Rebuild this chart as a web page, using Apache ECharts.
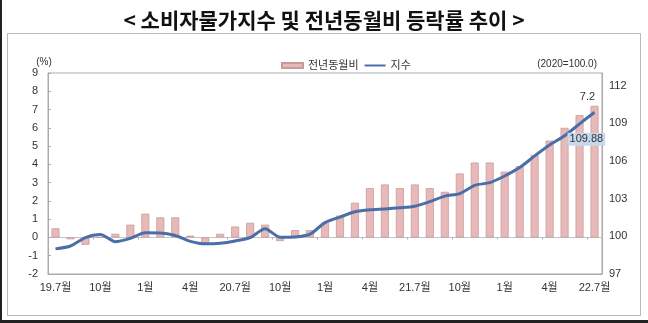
<!DOCTYPE html>
<html>
<head>
<meta charset="utf-8">
<script src="https://cdn.jsdelivr.net/npm/echarts@6/dist/echarts.min.js"></script>
<style>
html,body{margin:0;padding:0;background:#fff;}
#c{width:648px;height:323px;}
</style>
</head>
<body>
<div id="c"></div>
<script>
const categories = ['19.7월','8월','9월','10월','11월','12월','1월','2월','3월','4월','5월','6월',
  '20.7월','8월','9월','10월','11월','12월','1월','2월','3월','4월','5월','6월',
  '21.7월','8월','9월','10월','11월','12월','1월','2월','3월','4월','5월','6월','22.7월'];
const yoyRate = [0.5,-0.1,-0.4,0.0,0.2,0.7,1.3,1.1,1.1,0.1,-0.3,0.2,
  0.6,0.8,0.7,-0.2,0.4,0.4,0.8,1.2,1.9,2.7,2.9,2.7,
  2.9,2.7,2.5,3.5,4.1,4.1,3.6,3.9,4.5,5.3,6.0,6.7,7.2];
const cpiIndex = [99.0,99.23,99.9,100.15,99.57,99.84,100.28,100.27,100.06,99.6,99.4,99.45,
  99.63,99.9,100.6,99.93,99.95,100.17,101.09,101.53,101.95,102.12,102.18,102.27,
  102.4,102.76,103.2,103.4,104.06,104.27,104.8,105.47,106.4,107.27,108.0,108.95,109.88];
const leftTicks = {min:-2, max:9, interval:1};
const rightTicks = {min:97, max:113, step:3};
const seriesNames = ['전년동월비','지수'];
const titleText = '< 소비자물가지수 및 전년동월비 등락률 추이 >';

const FONT = "'Liberation Sans', 'Noto Sans CJK KR', sans-serif";
const chart = echarts.init(document.getElementById('c'), null, {renderer:'canvas'});
const lastIdx = yoyRate.length - 1;
const barData = yoyRate.map((v,i)=> i===lastIdx ? {value:v, label:{show:true, position:'top', offset:[-7,2], color:'#333', fontSize:11, fontFamily:FONT, formatter: p=>String(p.value)}} : v);

chart.setOption({
  animation:false,
  backgroundColor:'#fff',
  textStyle:{fontFamily:FONT},
  title:{text:titleText, left:'center', top:5, textStyle:{fontFamily:"'Noto Sans CJK KR', sans-serif", fontSize:21, fontWeight:'bold', color:'#111'}},
  graphic:[
    {type:'rect', z:-10, shape:{x:7.5,y:33.5,width:633,height:282}, style:{fill:'none', stroke:'#b8b8b8', lineWidth:1}},
    {type:'rect', z:-10, shape:{x:0,y:0,width:2,height:323}, style:{fill:'#222'}},
    {type:'rect', z:-10, shape:{x:0,y:320,width:648,height:3}, style:{fill:'#222'}}
  ],
  legend:{
    left:276, top:55, itemWidth:21, itemHeight:5, itemGap:6,
    textStyle:{fontSize:11, color:'#333', fontFamily:FONT},
    data:[{name:seriesNames[0], icon:'rect'},
          {name:seriesNames[1], icon:'path://M0,0M0,1.5H21V3.5H0ZM21,5', itemStyle:{color:'#4a6ea8'}}]
  },
  grid:{left:48, right:46, top:73, bottom:49, show:true, borderColor:'#aaa', borderWidth:1, backgroundColor:'transparent'},
  xAxis:[
    {type:'category', data:categories, position:'bottom', boundaryGap:true,
     axisLine:{onZero:false, lineStyle:{color:'#aaa'}}, axisTick:{show:false},
     axisLabel:{interval:2, color:'#333', fontSize:11, margin:8, fontFamily:FONT}},
    {type:'category', data:categories, position:'bottom', boundaryGap:true,
     axisLine:{onZero:true, onZeroAxisIndex:0, lineStyle:{color:'#c4c4c4'}},
     axisTick:{show:true, length:2, lineStyle:{color:'#aaa'}}, axisLabel:{show:false}}
  ],
  yAxis:[
    {type:'value', min:leftTicks.min, max:leftTicks.max, interval:leftTicks.interval, position:'left',
     name:'(%)', nameLocation:'end', nameGap:3, nameTextStyle:{fontSize:10, color:'#333', align:'center', padding:[0,8,0,0]},
     axisLine:{show:true, lineStyle:{color:'#aaa'}}, axisTick:{show:true, inside:true, length:3, lineStyle:{color:'#aaa'}},
     splitLine:{show:false}, axisLabel:{color:'#333', fontSize:11, margin:10}},
    {type:'value', min:rightTicks.min, max:rightTicks.max, interval:1, position:'right',
     name:'(2020=100.0)', nameLocation:'end', nameGap:4, nameTextStyle:{fontSize:10, color:'#333', align:'right', padding:[0,5,0,0]},
     axisLine:{show:true, lineStyle:{color:'#aaa'}}, axisTick:{show:false}, splitLine:{show:false},
     axisLabel:{color:'#333', fontSize:11, margin:7, showMaxLabel:false,
       formatter: v => ((v - rightTicks.min) % rightTicks.step === 0 && v < rightTicks.max) ? String(v) : ''}}
  ],
  series:[
    {name:seriesNames[0], type:'bar', xAxisIndex:0, yAxisIndex:0, data:barData, barWidth:8,
     itemStyle:{color:'#e7bab9', borderColor:'#c99a9b', borderWidth:0.8}},
    {name:seriesNames[1], type:'line', xAxisIndex:0, yAxisIndex:1, data:cpiIndex, smooth:0.25,
     symbol:'none', lineStyle:{color:'#4a6ea8', width:3}, itemStyle:{color:'#4a6ea8'}, z:5,
     endLabel:{show:true, formatter: p => String(p.value), color:'#333', fontSize:11, fontFamily:FONT,
       backgroundColor:'#c5d8ee', padding:[1,2,1,2], offset:[-35,27]}}
  ]
});
</script>
</body>
</html>
